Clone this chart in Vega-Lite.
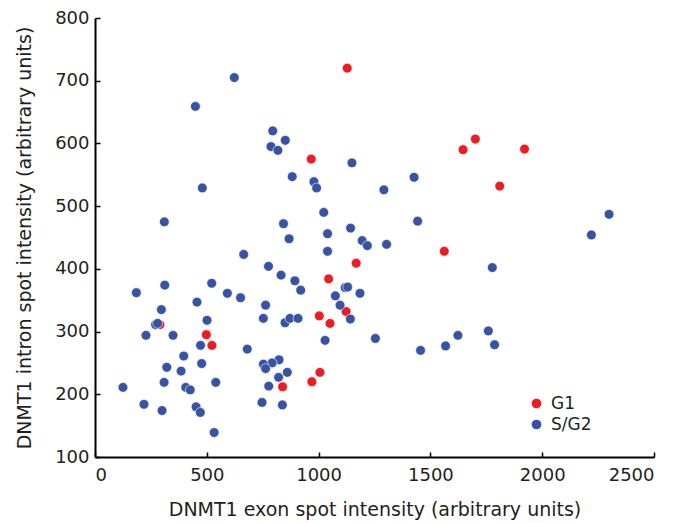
{
  "$schema": "https://vega.github.io/schema/vega-lite/v6.json",
  "width": 559,
  "height": 439,
  "autosize": "none",
  "padding": {"left": 95, "top": 18, "right": 27, "bottom": 66},
  "background": "white",
  "config": {
    "view": {"stroke": null},
    "font": "DejaVu Sans",
    "axis": {"grid": false, "domainColor": "black", "domainWidth": 2, "tickColor": "black", "tickWidth": 1.5, "labelFontSize": 18, "labelColor": "#231f20", "titleFontSize": 19, "titleFontWeight": "normal", "titleColor": "#231f20", "labelFont": "DejaVu Sans", "titleFont": "DejaVu Sans"}
  },
  "data": {"values": [
    {"x":1128,"y":720,"phase":"G1"},{"x":967,"y":575,"phase":"G1"},{"x":1701,"y":607,"phase":"G1"},{"x":1646,"y":590,"phase":"G1"},{"x":1921,"y":591,"phase":"G1"},{"x":1810,"y":532,"phase":"G1"},{"x":1562,"y":428,"phase":"G1"},{"x":1168,"y":409,"phase":"G1"},{"x":1045,"y":384,"phase":"G1"},{"x":1123,"y":332,"phase":"G1"},{"x":1003,"y":325,"phase":"G1"},{"x":1051,"y":313,"phase":"G1"},{"x":290,"y":311,"phase":"G1"},{"x":498,"y":295,"phase":"G1"},{"x":523,"y":278,"phase":"G1"},{"x":1006,"y":235,"phase":"G1"},{"x":970,"y":220,"phase":"G1"},{"x":839,"y":212,"phase":"G1"},
    {"x":623,"y":705,"phase":"S/G2"},{"x":449,"y":659,"phase":"S/G2"},{"x":795,"y":620,"phase":"S/G2"},{"x":851,"y":605,"phase":"S/G2"},{"x":787,"y":595,"phase":"S/G2"},{"x":818,"y":589,"phase":"S/G2"},{"x":1149,"y":569,"phase":"S/G2"},{"x":882,"y":547,"phase":"S/G2"},{"x":979,"y":539,"phase":"S/G2"},{"x":991,"y":529,"phase":"S/G2"},{"x":480,"y":529,"phase":"S/G2"},{"x":310,"y":475,"phase":"S/G2"},{"x":1023,"y":490,"phase":"S/G2"},{"x":843,"y":472,"phase":"S/G2"},{"x":1040,"y":456,"phase":"S/G2"},{"x":1143,"y":465,"phase":"S/G2"},{"x":868,"y":448,"phase":"S/G2"},{"x":1195,"y":445,"phase":"S/G2"},{"x":1218,"y":437,"phase":"S/G2"},{"x":1427,"y":546,"phase":"S/G2"},{"x":1292,"y":526,"phase":"S/G2"},{"x":1443,"y":476,"phase":"S/G2"},{"x":2299,"y":487,"phase":"S/G2"},{"x":2220,"y":454,"phase":"S/G2"},{"x":1304,"y":439,"phase":"S/G2"},{"x":1777,"y":402,"phase":"S/G2"},{"x":1185,"y":361,"phase":"S/G2"},{"x":1254,"y":289,"phase":"S/G2"},{"x":1456,"y":270,"phase":"S/G2"},{"x":1568,"y":277,"phase":"S/G2"},{"x":1623,"y":294,"phase":"S/G2"},{"x":1759,"y":301,"phase":"S/G2"},{"x":1787,"y":279,"phase":"S/G2"},{"x":1040,"y":428,"phase":"S/G2"},{"x":665,"y":423,"phase":"S/G2"},{"x":776,"y":404,"phase":"S/G2"},{"x":832,"y":390,"phase":"S/G2"},{"x":894,"y":381,"phase":"S/G2"},{"x":920,"y":366,"phase":"S/G2"},{"x":522,"y":377,"phase":"S/G2"},{"x":312,"y":374,"phase":"S/G2"},{"x":185,"y":362,"phase":"S/G2"},{"x":592,"y":361,"phase":"S/G2"},{"x":651,"y":354,"phase":"S/G2"},{"x":456,"y":347,"phase":"S/G2"},{"x":763,"y":342,"phase":"S/G2"},{"x":1075,"y":357,"phase":"S/G2"},{"x":1119,"y":370,"phase":"S/G2"},{"x":1130,"y":371,"phase":"S/G2"},{"x":1096,"y":342,"phase":"S/G2"},{"x":1142,"y":320,"phase":"S/G2"},{"x":850,"y":314,"phase":"S/G2"},{"x":872,"y":321,"phase":"S/G2"},{"x":908,"y":321,"phase":"S/G2"},{"x":753,"y":321,"phase":"S/G2"},{"x":297,"y":335,"phase":"S/G2"},{"x":501,"y":318,"phase":"S/G2"},{"x":271,"y":311,"phase":"S/G2"},{"x":280,"y":313,"phase":"S/G2"},{"x":228,"y":294,"phase":"S/G2"},{"x":349,"y":294,"phase":"S/G2"},{"x":472,"y":278,"phase":"S/G2"},{"x":681,"y":272,"phase":"S/G2"},{"x":1029,"y":286,"phase":"S/G2"},{"x":397,"y":261,"phase":"S/G2"},{"x":823,"y":255,"phase":"S/G2"},{"x":792,"y":250,"phase":"S/G2"},{"x":753,"y":248,"phase":"S/G2"},{"x":763,"y":241,"phase":"S/G2"},{"x":477,"y":249,"phase":"S/G2"},{"x":321,"y":243,"phase":"S/G2"},{"x":385,"y":237,"phase":"S/G2"},{"x":821,"y":227,"phase":"S/G2"},{"x":860,"y":235,"phase":"S/G2"},{"x":777,"y":213,"phase":"S/G2"},{"x":309,"y":219,"phase":"S/G2"},{"x":540,"y":219,"phase":"S/G2"},{"x":125,"y":211,"phase":"S/G2"},{"x":406,"y":211,"phase":"S/G2"},{"x":426,"y":207,"phase":"S/G2"},{"x":747,"y":187,"phase":"S/G2"},{"x":838,"y":183,"phase":"S/G2"},{"x":219,"y":184,"phase":"S/G2"},{"x":300,"y":174,"phase":"S/G2"},{"x":452,"y":180,"phase":"S/G2"},{"x":471,"y":171,"phase":"S/G2"},{"x":533,"y":139,"phase":"S/G2"}
  ]},
  "layer": [
    {
      "mark": {"type": "point", "filled": true, "opacity": 0, "size": 1},
      "encoding": {
        "x": {"field": "x", "type": "quantitative", "scale": {"domain": [0, 2500], "nice": false, "zero": false}, "axis": {"orient": "bottom", "values": [0, 500, 1000, 1500, 2000, 2500], "offset": -5, "tickSize": 5, "domain": false, "labels": false, "title": null}},
        "y": {"field": "y", "type": "quantitative", "scale": {"domain": [100, 800], "nice": false, "zero": false}, "axis": {"orient": "left", "values": [100, 200, 300, 400, 500, 600, 700, 800], "offset": -5, "tickSize": 5, "domain": false, "labels": false, "title": null}}
      }
    },
    {
      "mark": {"type": "point", "filled": true, "opacity": 1, "size": 95, "stroke": "white", "strokeWidth": 0.6},
      "encoding": {
        "x": {"field": "x", "type": "quantitative", "axis": {"orient": "bottom", "values": [0, 500, 1000, 1500, 2000, 2500], "format": "d", "ticks": false, "title": "DNMT1 exon spot intensity (arbitrary units)", "labelPadding": 9, "titlePadding": 16}},
        "y": {"field": "y", "type": "quantitative", "axis": {"orient": "left", "values": [100, 200, 300, 400, 500, 600, 700, 800], "format": "d", "ticks": false, "title": "DNMT1 intron spot intensity (arbitrary units)", "labelPadding": 6, "titlePadding": 20}},
        "color": {"field": "phase", "type": "nominal", "scale": {"domain": ["G1", "S/G2"], "range": ["#ED1C24", "#3953A4"]}, "legend": {"title": null, "orient": "none", "legendX": 433, "legendY": 377, "labelFontSize": 17, "labelFont": "DejaVu Sans", "labelColor": "#231f20", "symbolSize": 95, "symbolType": "circle", "symbolStrokeWidth": 0, "rowPadding": 3, "labelOffset": 6}}
      }
    }
  ],
  "resolve": {"axis": {"x": "independent", "y": "independent"}}
}
